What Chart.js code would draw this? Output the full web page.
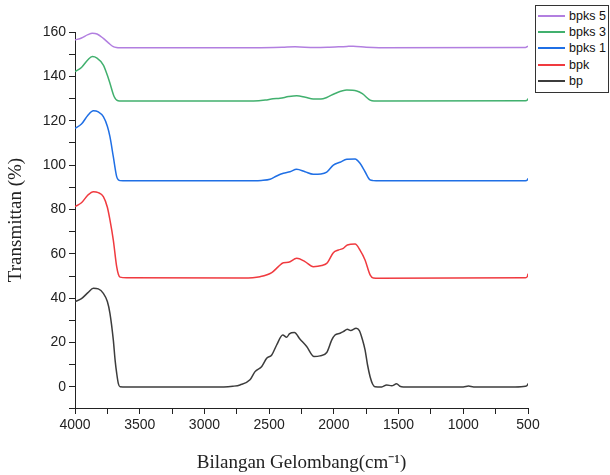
<!DOCTYPE html>
<html>
<head>
<meta charset="utf-8">
<script src="https://cdn.jsdelivr.net/npm/chart.js@4.4.1/dist/chart.umd.min.js"></script>
<style>
  body { margin: 0; background: #fff; }
  #wrap { position: relative; width: 610px; height: 475px; }
  #legend {
    position: absolute; left: 535px; top: 5px; width: 72px;
    border: 1px solid #333; background: #fff; padding: 2px 0 3px 0;
    font-family: "Liberation Sans", Arial, sans-serif; font-size: 12.5px; color: #111;
  }
  #legend div { display: flex; align-items: center; height: 16.2px; }
  #legend span.ln { display: inline-block; width: 27px; height: 2px; margin: 0 4px 0 2px; }
</style>
</head>
<body>
<div id="wrap">
  <canvas id="myChart" width="610" height="475"></canvas>
  <div id="legend"></div>
</div>
<script>
// wavenumber (cm-1) and transmittance
const bpX = [4000, 3950, 3900, 3858, 3820, 3781, 3750, 3730, 3704, 3690, 3678, 3665, 3652, 3600, 2850, 2780, 2725, 2648, 2609, 2557, 2519, 2480, 2442, 2395, 2364, 2344, 2305, 2261, 2210, 2153, 2107, 2055, 2016, 1991, 1952, 1927, 1896, 1870, 1828, 1803, 1780, 1759, 1740, 1720, 1700, 1682, 1630, 1592, 1553, 1515, 1490, 1463, 1000, 960, 920, 600, 520, 505, 500];
const bpY = [38.4, 39.8, 42.5, 44.5, 44.2, 42.2, 38.5, 33.2, 21.2, 12, 6.2, 1.5, 0.1, 0, 0, 0.3, 0.9, 3.2, 6.9, 9.2, 12.9, 14.4, 18.9, 23.4, 22.4, 23.9, 24.5, 21.5, 18.2, 13.7, 14.0, 15.5, 21.2, 23.4, 24.2, 24.9, 26.0, 25.4, 26.4, 25.4, 21.5, 16.7, 10, 4.6, 1.2, 0.1, 0, 0.9, 0.5, 1.4, 0.3, 0, 0, 0.4, 0, 0, 0.3, 0.8, 1.5];

const bpkX = [4000, 3950, 3900, 3858, 3820, 3781, 3750, 3730, 3704, 3678, 3665, 3652, 3600, 2700, 2570, 2480, 2429, 2390, 2351, 2287, 2223, 2159, 2094, 2050, 2004, 1965, 1927, 1896, 1836, 1798, 1759, 1720, 1695, 1650, 520, 505, 500];
const bpkY = [81.3, 83, 86.5, 88, 87.6, 85.8, 81, 75.3, 66.2, 54.2, 50.8, 49.5, 49.2, 49.1, 49.7, 51.5, 54.2, 56.0, 56.2, 58.0, 56.5, 54.2, 54.7, 56.0, 60.5, 61.7, 62.5, 64.0, 64.4, 61.7, 57.2, 50.5, 49.1, 49, 49.2, 49.8, 51];

const bpks1X = [4000, 3950, 3900, 3858, 3820, 3781, 3750, 3730, 3704, 3678, 3665, 3652, 3600, 2700, 2560, 2493, 2442, 2390, 2339, 2287, 2223, 2159, 2100, 2055, 2004, 1952, 1900, 1836, 1798, 1759, 1720, 1695, 1650, 520, 505, 500];
const bpks1Y = [116.6, 118.5, 122.5, 124.5, 124, 121.8, 117.5, 112.8, 103.8, 94.8, 93.4, 93, 92.9, 92.9, 93.1, 93.6, 95.1, 96.3, 97.0, 98.1, 97.0, 95.9, 96.0, 96.8, 100.0, 101.3, 102.6, 102.8, 100.8, 97.0, 93.3, 93, 92.9, 93, 93.3, 94];

const bpks3X = [4000, 3950, 3900, 3866, 3830, 3781, 3750, 3730, 3697, 3668, 3640, 2620, 2530, 2470, 2416, 2350, 2287, 2220, 2159, 2100, 2055, 1991, 1900, 1823, 1780, 1720, 1690, 1650, 520, 505, 500];
const bpks3Y = [142.1, 144, 147.5, 148.9, 148.2, 145.1, 140.5, 136.9, 130.8, 129.0, 128.9, 128.9, 129.3, 129.9, 130.1, 130.9, 131.3, 130.6, 129.8, 129.8, 130.5, 132.3, 133.8, 133.4, 132.2, 129.3, 128.9, 128.9, 129, 129.3, 130];

const bpks5X = [4000, 3950, 3900, 3866, 3830, 3781, 3740, 3704, 3680, 3650, 2600, 2400, 2300, 2150, 2050, 1900, 1850, 1750, 1650, 520, 500];
const bpks5Y = [156.4, 157.3, 158.8, 159.4, 159.1, 157.1, 155, 153.4, 153.0, 152.9, 152.9, 153.1, 153.3, 153.0, 153.1, 153.5, 153.6, 153.1, 152.9, 153.0, 153.6];

const seriesNames = ["bpks 5", "bpks 3", "bpks 1", "bpk", "bp"];
const seriesX = [bpks5X, bpks3X, bpks1X, bpkX, bpX];
const seriesY = [bpks5Y, bpks3Y, bpks1Y, bpkY, bpY];
const colors = ["#b27fe0", "#41b06e", "#1f6fe5", "#f03a3f", "#3c3c3c"];

const xTickLabels = [4000, 3500, 3000, 2500, 2000, 1500, 1000, 500];
const yTickLabels = [0, 20, 40, 60, 80, 100, 120, 140, 160];

const datasets = seriesNames.map((name, i) => ({
  label: name,
  data: seriesX[i].map((x, j) => ({ x: x, y: seriesY[i][j] })),
  borderColor: colors[i],
  borderWidth: 1.5,
  pointRadius: 0,
  cubicInterpolationMode: "monotone",
  fill: false,
}));

const tickFont = { family: "Liberation Sans", size: 14 };
const titleFont = { family: "Liberation Serif", size: 19 };

const config = {
  type: "line",
  data: { datasets: datasets },
  options: {
    responsive: false,
    animation: false,
    layout: { padding: { left: 0, right: 82, top: 32, bottom: 0 } },
    scales: {
      x: {
        type: "linear",
        reverse: true,
        min: 500,
        max: 4000,
        afterFit: (scale) => { scale.height = 67; },
        grid: { display: true, drawOnChartArea: false, tickLength: 6, color: "#222" },
        border: { display: true, color: "#222", width: 1 },
        ticks: {
          stepSize: 250,
          autoSkip: false,
          maxRotation: 0,
          color: "#222",
          font: tickFont,
          padding: 3,
          callback: (v) => xTickLabels.includes(v) ? String(v) : "",
        },
        title: {
          display: true,
          text: "Bilangan Gelombang(cm⁻¹)",
          color: "#222",
          font: titleFont,
          padding: { top: 6, bottom: 1 },
        },
      },
      y: {
        min: -9.5,
        max: 160,
        afterFit: (scale) => { scale.width = 75; },
        grid: { display: true, drawOnChartArea: false, tickLength: 6, color: "#222" },
        border: { display: true, color: "#222", width: 1 },
        ticks: {
          stepSize: 10,
          autoSkip: false,
          color: "#222",
          font: tickFont,
          padding: 3,
          callback: (v) => yTickLabels.includes(v) ? String(v) : "",
        },
        title: {
          display: true,
          text: "Transmittan (%)",
          color: "#222",
          font: titleFont,
          padding: { top: 5, bottom: 4 },
        },
      },
    },
    plugins: {
      legend: { display: false },
      tooltip: { enabled: false },
    },
  },
};

const myChart = new Chart(document.getElementById("myChart").getContext("2d"), config);

// legend box on the right, built from the datasets
const legendEl = document.getElementById("legend");
datasets.forEach((ds) => {
  const row = document.createElement("div");
  const ln = document.createElement("span");
  ln.className = "ln";
  ln.style.background = ds.borderColor;
  row.appendChild(ln);
  row.appendChild(document.createTextNode(ds.label));
  legendEl.appendChild(row);
});
</script>
</body>
</html>
